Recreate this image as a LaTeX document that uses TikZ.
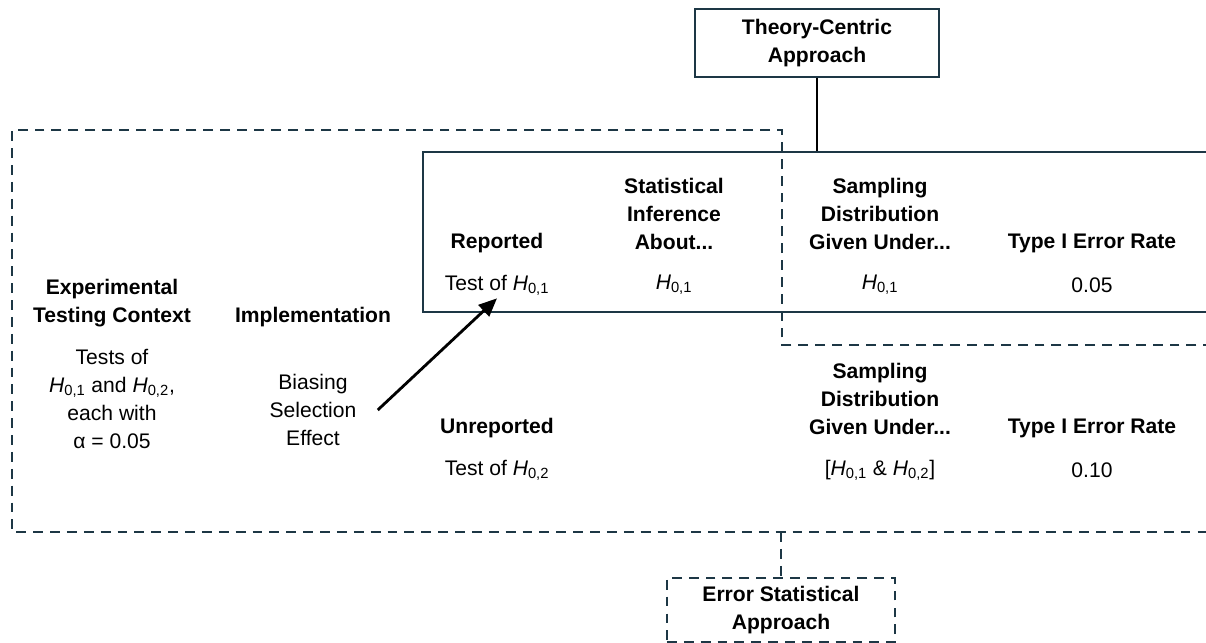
\documentclass[tikz,border=0pt]{standalone}
\usepackage{fontspec}
\setmainfont{Liberation Sans}
\usetikzlibrary{arrows.meta}
\definecolor{edgeblue}{HTML}{1D3745}
\newcommand{\hyp}[1]{\textit{H}\textsubscript{0,#1}}

\begin{document}
\begin{tikzpicture}[x=0.025cm, y=-0.025cm,
    head/.style={font=\fontsize{15}{19.9}\selectfont\bfseries, align=center, inner sep=1pt},
    cell/.style={font=\fontsize{15}{19.9}\selectfont, align=center, inner sep=1pt},
    frame/.style={draw=edgeblue, line width=1.4pt},
    dashframe/.style={draw=edgeblue, line width=1.4pt, dash pattern=on 7pt off 5pt}]
    \useasboundingbox (0,0) rectangle (1206,643);
    \clip (0,0) rectangle (1206,643);

    % Approaches
    \node[frame, head, minimum width=6.1cm, minimum height=1.68cm] (theory) at (817,43)
        {Theory-Centric\\Approach};
    \node[frame, minimum width=20.175cm, minimum height=4cm] (repbox) at (826.5,232) {};
    \draw[line width=1pt] (theory.south) -- (theory.south |- repbox.north);

    % Testing context (dashed)
    \draw[dashframe] (1230,345) -- (782,345) -- (782,130) -- (12,130) -- (12,532) -- (1230,532);
    \coordinate (ctxfoot) at (781,532);
    \node[dashframe, head, minimum width=5.7cm, minimum height=1.62cm] (error) at (781,610)
        {Error Statistical\\Approach};
    \draw[dashframe] (ctxfoot) -- (error.north);

    % Left columns
    \node[head] (context) at (112,303) {Experimental\\Testing Context};
    \node[cell] (tests) at (112,399) {Tests of\\\hyp{1} and \hyp{2},\\each with\\α = 0.05};
    \node[head] (implem) at (313,317) {Implementation};
    \node[cell] (bias) at (313,410) {Biasing\\Selection\\Effect};

    % Reported row
    \node[head] (rep) at (497,243) {Reported};
    \node[cell] (reptest) at (497,285) {Test of \hyp{1}};
    \node[head] (infer) at (674,214) {Statistical\\Inference\\About...};
    \node[cell] (repinf) at (674,285) {\hyp{1}};
    \node[head] (sampa) at (880,214) {Sampling\\Distribution\\Given Under...};
    \node[cell] (repsamp) at (880,285) {\hyp{1}};
    \node[head] (ratea) at (1092,243) {Type I Error Rate};
    \node[cell] (reprate) at (1092,285) {0.05};

    % Unreported row
    \node[head] (unrep) at (497,428) {Unreported};
    \node[cell] (unreptest) at (497,470) {Test of \hyp{2}};
    \node[head] (sampb) at (880,399) {Sampling\\Distribution\\Given Under...};
    \node[cell] (unrepsamp) at (880,470) {[\hyp{1} \& \hyp{2}]};
    \node[head] (rateb) at (1092,428) {Type I Error Rate};
    \node[cell] (unreprate) at (1092,470) {0.10};

    \draw[-{Triangle[length=13pt,width=11pt]}, line width=2pt] ([xshift=14pt]bias.east) -- ([yshift=-1pt]reptest.south);
\end{tikzpicture}
\end{document}
